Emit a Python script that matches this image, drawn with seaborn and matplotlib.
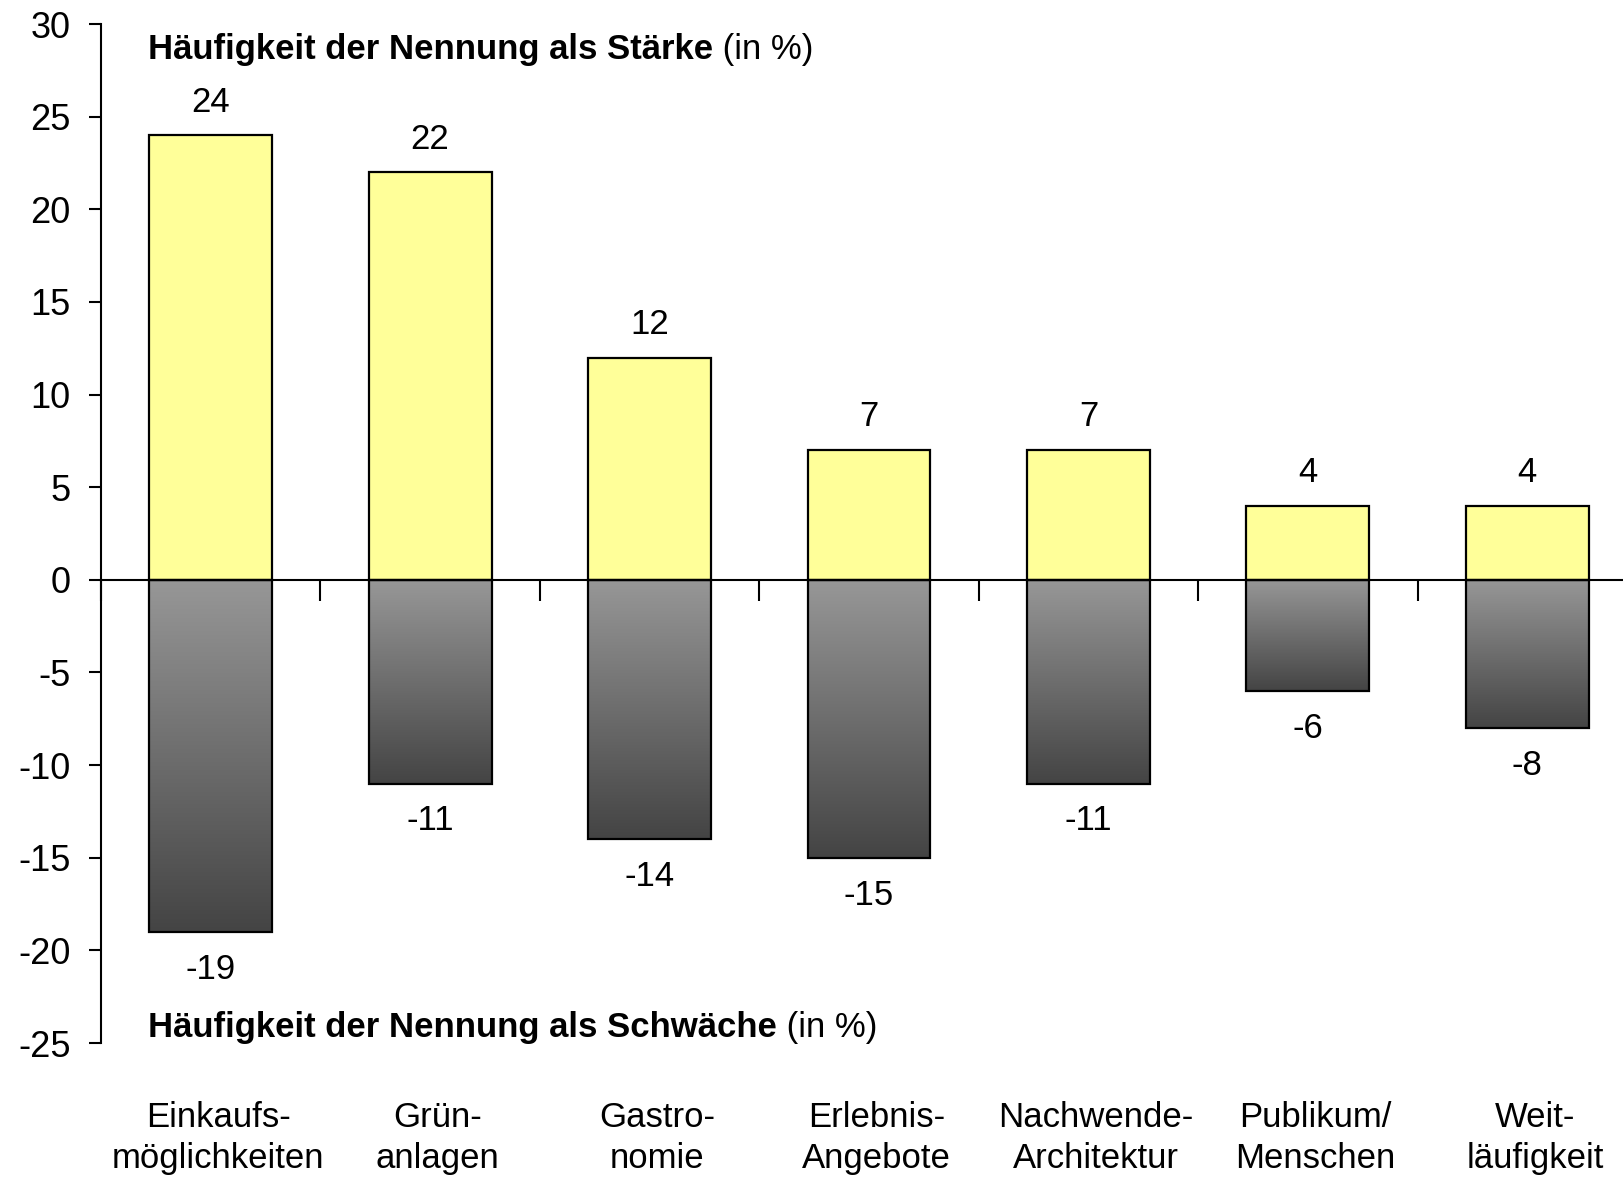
import numpy as np
import pandas as pd
import seaborn as sns
import matplotlib.pyplot as plt

sns.set_style("white")
plt.rcParams['font.family'] = ['Liberation Sans', 'DejaVu Sans']
plt.rcParams['axes.unicode_minus'] = False
plt.rcParams['text.color'] = 'black'
plt.rcParams['xtick.color'] = 'black'
plt.rcParams['ytick.color'] = 'black'

# Daten
kategorien = ["Einkaufs-\nmöglichkeiten", "Grün-\nanlagen", "Gastro-\nnomie",
              "Erlebnis-\nAngebote", "Nachwende-\nArchitektur", "Publikum/\nMenschen",
              "Weit-\nläufigkeit"]
staerke = [24, 22, 12, 7, 7, 4, 4]
schwaeche = [-19, -11, -14, -15, -11, -6, -8]

df = pd.DataFrame({"kat": kategorien, "staerke": staerke, "schwaeche": schwaeche})

fig = plt.figure(figsize=(16.23, 11.78), dpi=100)
ax = fig.add_axes([0.0622, 0.1146, 0.9464, 0.865])

sns.barplot(data=df, x="kat", y="staerke", color="#FFFF99", saturation=1,
            edgecolor="black", linewidth=1.6, width=0.56, ax=ax)
n_pos = len(ax.patches)
sns.barplot(data=df, x="kat", y="schwaeche", color="#969696", saturation=1,
            edgecolor="black", linewidth=1.6, width=0.56, ax=ax)
neg_bars = ax.patches[n_pos:]

# Grauverlauf in den negativen Balken
grad = np.linspace(0, 1, 256).reshape(-1, 1)
cmap = sns.blend_palette(["#979797", "#444444"], as_cmap=True)
for p in neg_bars:
    x0, y0 = p.get_x(), p.get_y()
    w, h = p.get_width(), p.get_height()
    top, bot = max(y0, y0 + h), min(y0, y0 + h)
    im = ax.imshow(grad, cmap=cmap, extent=[x0, x0 + w, bot, top], origin="upper",
                   aspect="auto", zorder=p.get_zorder() - 0.01, interpolation="bilinear")
    im.set_clip_path(p)
    p.set_facecolor("none")
    p.set_zorder(p.get_zorder() + 0.5)

ax.set_xlim(-0.5, 6.5)
ax.set_ylim(-25, 30)
ax.set_yticks(range(-25, 31, 5))
ax.tick_params(axis="y", labelsize=26, length=9, width=1.5, direction="out", pad=13, left=True)

# Nulllinie als x-Achse
ax.spines["top"].set_visible(False)
ax.spines["right"].set_visible(False)
ax.spines["bottom"].set_position(("data", 0))
for s in ("bottom", "left"):
    ax.spines[s].set_linewidth(1.5)
    ax.spines[s].set_color("black")
ax.set_xticks(np.arange(-0.5, 7, 1), minor=True)
ax.tick_params(axis="x", which="minor", length=15, width=1.5, direction="out", bottom=True)
ax.tick_params(axis="x", which="major", length=0, labelbottom=False)
ax.set_xlabel("")
ax.set_ylabel("")

# Kategorien unterhalb der Achse (leicht nach rechts versetzt wie im Original)
sec = ax.secondary_xaxis(0, functions=(lambda x: x - 0.035, lambda x: x + 0.035))
sec.set_xticks(range(len(kategorien)), kategorien)
sec.tick_params(length=0, labelsize=25, pad=42)
for lbl in sec.get_xticklabels():
    lbl.set_linespacing(1.3)
sec.spines["bottom"].set_visible(False)

# Werte
ax.bar_label(ax.containers[0], labels=[str(v) for v in staerke], padding=12, fontsize=25)
ax.bar_label(ax.containers[1], labels=[str(v) for v in schwaeche], padding=15, fontsize=25)

# Titel
t1 = ax.text(-0.286, 28.6, "Häufigkeit der Nennung als Stärke", fontsize=25,
             fontweight="bold", va="center", ha="left")
ax.annotate(" (in %)", xy=(1, 0), xycoords=t1, va="bottom", ha="left", fontsize=25)
t2 = ax.text(-0.286, -24.14, "Häufigkeit der Nennung als Schwäche", fontsize=25,
             fontweight="bold", va="center", ha="left")
ax.annotate(" (in %)", xy=(1, 0), xycoords=t2, va="bottom", ha="left", fontsize=25)

plt.savefig("out.png", dpi=100)
